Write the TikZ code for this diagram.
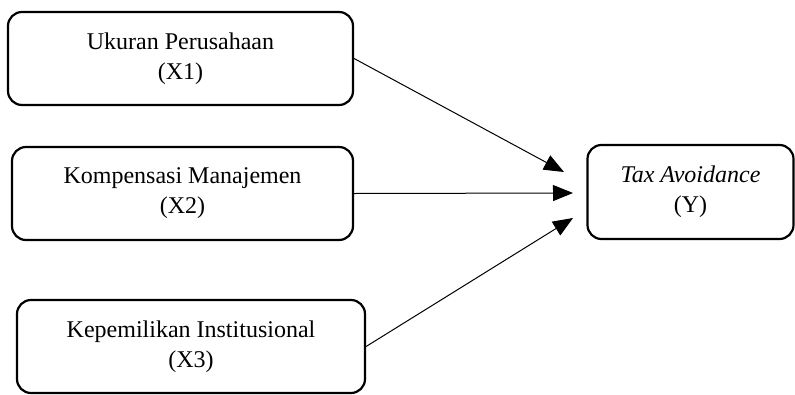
\documentclass[tikz,border=0pt]{standalone}
\usepackage{fontspec}
\setmainfont{Liberation Serif}
\usetikzlibrary{arrows.meta}
\begin{document}
\begin{tikzpicture}[x=1pt,y=-1pt,
  varbox/.style={draw, line width=2.2pt, rounded corners=14pt, minimum height=93pt,
    align=center, font=\fontsize{24}{30}\selectfont, inner sep=2pt},
  conn/.style={line width=1pt, -{Triangle[length=20pt,width=16pt]}}]
\useasboundingbox (0,0) rectangle (795,394);
\node[varbox, minimum width=345pt] (x1) at (180.5,58.5) {Ukuran Perusahaan\\(X1)};
\node[varbox, minimum width=341pt] (x2) at (182.5,193.5) {Kompensasi Manajemen\\(X2)};
\node[varbox, minimum width=348pt] (x3) at (191,346.5) {Kepemilikan Institusional\\(X3)};
\node[varbox, minimum width=206pt, minimum height=94pt] (y) at (690.5,192) {\textit{Tax Avoidance}\\(Y)};
\coordinate (t1) at (564,172);
\coordinate (t2) at (573,193);
\coordinate (t3) at (573,218);
\draw[conn] (x1.east) -- (t1);
\draw[conn] (x2.east) -- (t2);
\draw[conn] (x3.east) -- (t3);
\end{tikzpicture}
\end{document}
